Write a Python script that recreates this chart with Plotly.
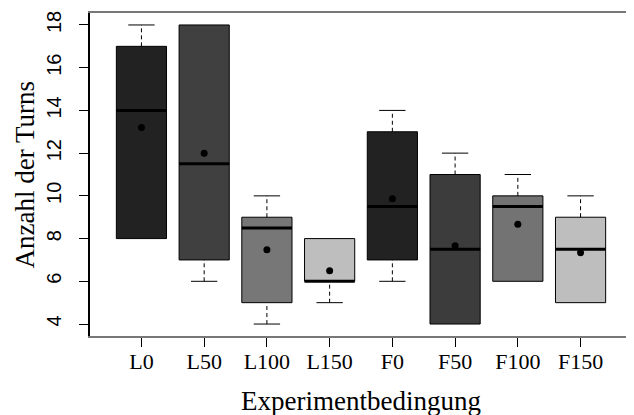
import plotly.graph_objects as go

categories = ["L0", "L50", "L100", "L150", "F0", "F50", "F100", "F150"]
whisker_low = [8, 6, 4, 5, 6, 4, 6, 5]
q1 = [8, 7, 5, 6, 7, 4, 6, 5]
median = [14, 11.5, 8.5, 6, 9.5, 7.5, 9.5, 7.5]
q3 = [17, 18, 9, 8, 13, 11, 10, 9]
whisker_high = [18, 18, 10, 8, 14, 12, 11, 10]
means = [13.2, 12.0, 7.48, 6.5, 9.86, 7.67, 8.67, 7.34]
box_colors = ["#222222", "#404040", "#777777", "#bebebe",
              "#222222", "#3c3c3c", "#737373", "#bebebe"]
y_ticks = [4, 6, 8, 10, 12, 14, 16, 18]

pos = list(range(1, len(categories) + 1))
box_w = 0.8
cap_w = 0.42

fig = go.Figure()

# boxes
fig.add_trace(go.Bar(
    x=pos, y=[b - a for a, b in zip(q1, q3)], base=q1, width=box_w,
    marker=dict(color=box_colors, line=dict(color="black", width=1)),
    hoverinfo="skip", showlegend=False))

# dashed whiskers
wx, wy = [], []
for p, lo, a, b, hi in zip(pos, whisker_low, q1, q3, whisker_high):
    if lo < a:
        wx += [p, p, None]; wy += [lo, a, None]
    if hi > b:
        wx += [p, p, None]; wy += [b, hi, None]
fig.add_trace(go.Scatter(x=wx, y=wy, mode="lines",
                         line=dict(color="black", width=1, dash="4px,3px"),
                         hoverinfo="skip", showlegend=False))

# caps (only where a whisker exists)
cx, cy = [], []
for p, lo, a, b, hi in zip(pos, whisker_low, q1, q3, whisker_high):
    if lo < a:
        cx += [p - cap_w / 2, p + cap_w / 2, None]; cy += [lo, lo, None]
    if hi > b:
        cx += [p - cap_w / 2, p + cap_w / 2, None]; cy += [hi, hi, None]
fig.add_trace(go.Scatter(x=cx, y=cy, mode="lines",
                         line=dict(color="black", width=1),
                         hoverinfo="skip", showlegend=False))

# medians
mx, my = [], []
for p, m in zip(pos, median):
    mx += [p - box_w / 2, p + box_w / 2, None]
    my += [m, m, None]
fig.add_trace(go.Scatter(x=mx, y=my, mode="lines",
                         line=dict(color="black", width=3),
                         hoverinfo="skip", showlegend=False))

# means
fig.add_trace(go.Scatter(x=pos, y=means, mode="markers",
                         marker=dict(color="black", size=7),
                         hoverinfo="skip", showlegend=False))

fig.update_layout(
    width=626, height=407,
    margin=dict(l=82, r=2, t=5, b=79),
    paper_bgcolor="white", plot_bgcolor="white",
    showlegend=False,
    xaxis=dict(range=[0.18, 8.82], tickvals=pos, ticktext=categories,
               automargin=False,
               showgrid=False, zeroline=False,
               ticks="outside", ticklen=9, tickcolor="black", tickwidth=1,
               ticklabelstandoff=-4,
               tickfont=dict(family="Liberation Serif", size=22, color="black"),
               showline=True, linecolor="#777777", linewidth=2, mirror=True),
    yaxis=dict(range=[3.44, 18.56], tickvals=y_ticks,
               automargin=False,
               showgrid=False, zeroline=False,
               ticks="outside", ticklen=9, tickcolor="black", tickwidth=1,
               tickangle=-90, ticklabelstandoff=10,
               tickfont=dict(family="Liberation Sans", size=20, color="black"),
               showline=True, linecolor="black", linewidth=1.5, mirror=False),
    shapes=[dict(type="line", xref="paper", yref="paper", x0=1, x1=1, y0=0, y1=1,
                 line=dict(color="#dddddd", width=1.5))],
    annotations=[
        dict(text="Experimentbedingung", xref="paper", yref="paper",
             x=0.5, y=-0.2, xanchor="center", yanchor="middle",
             showarrow=False,
             font=dict(family="Liberation Serif", size=27, color="black")),
        dict(text="Anzahl der Turns", xref="paper", yref="paper",
             x=-0.12, y=0.5, xanchor="center", yanchor="middle",
             textangle=-90, showarrow=False,
             font=dict(family="Liberation Serif", size=27, color="black")),
    ],
)

fig.write_html("out.html")
